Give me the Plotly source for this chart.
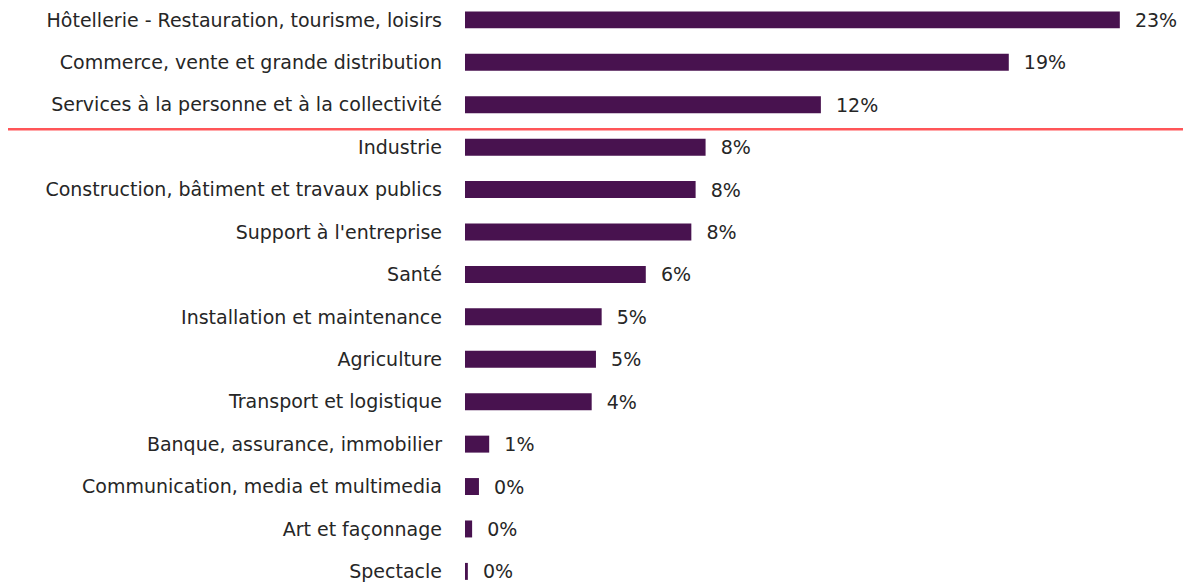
import plotly.graph_objects as go

categories = [
    "Hôtellerie - Restauration, tourisme, loisirs",
    "Commerce, vente et grande distribution",
    "Services à la personne et à la collectivité",
    "Industrie",
    "Construction, bâtiment et travaux publics",
    "Support à l'entreprise",
    "Santé",
    "Installation et maintenance",
    "Agriculture",
    "Transport et logistique",
    "Banque, assurance, immobilier",
    "Communication, media et multimedia",
    "Art et façonnage",
    "Spectacle",
]
values = [23.0, 19.1, 12.5, 8.45, 8.1, 7.95, 6.35, 4.8, 4.6, 4.45, 0.85, 0.49, 0.25, 0.1]
labels = [f"{v:.0f}%" for v in values]

# page has an 8px body margin; compensate so the figure fills the window
W, H = 1183, 574
L = 457
y_top, y_bot = -0.28, 13.25
FONT = "DejaVu Sans"
FS = 19

fig = go.Figure(go.Bar(
    x=values, y=categories, orientation="h",
    marker=dict(color="#48124F", line=dict(width=0)),
    width=0.40,
    text=["  " + t for t in labels], textposition="outside",
    textfont=dict(family=FONT, size=FS, color="#262626"),
    constraintext="none", cliponaxis=False,
))

# separator line between row 3 and 4
sep = 2.58
ypaper = (y_bot - sep) / (y_bot - y_top)
fig.add_shape(type="line", xref="paper", yref="paper",
              x0=-(L + 8) / (W - L), x1=1, y0=ypaper, y1=ypaper,
              line=dict(color="#FF5558", width=2.5))

fig.update_layout(
    width=W, height=H,
    margin=dict(l=L, r=0, t=0, b=0),
    paper_bgcolor="white", plot_bgcolor="white",
    showlegend=False,
    xaxis=dict(range=[0, 25.5], visible=False),
    yaxis=dict(categoryorder="array", categoryarray=categories,
               range=[y_bot, y_top], showgrid=False, zeroline=False,
               showline=False, ticks="", ticklabelstandoff=22,
               tickfont=dict(family=FONT, size=FS, color="#262626")),
)
fig.write_html("out.html")
